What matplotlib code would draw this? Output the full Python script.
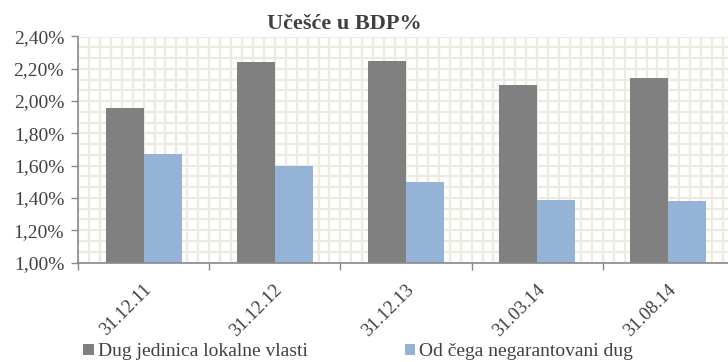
import numpy as np
import matplotlib
matplotlib.use("Agg")
import matplotlib.pyplot as plt
from matplotlib.ticker import FuncFormatter, MultipleLocator
from matplotlib.transforms import offset_copy

plt.rcParams['font.family'] = ['Liberation Serif', 'DejaVu Serif']

# share of GDP, in percent
dates = ['31.12.11', '31.12.12', '31.12.13', '31.03.14', '31.08.14']
dug_lokalne = [1.96, 2.24, 2.25, 2.10, 2.14]
negarantovani = [1.67, 1.60, 1.50, 1.39, 1.38]
series_names = ['Dug jedinica lokalne vlasti', 'Od čega negarantovani dug']

gray = '#808080'
blue = '#95B3D7'
grid_col = '#EDEBE0'
text_col = '#404040'

fig = plt.figure(figsize=(7.28, 3.62), dpi=100)
ax = fig.add_axes([78/728, 1 - 262.5/362, 656/728, 226/362])

x = np.arange(len(dates))
w = 0.29
b1 = ax.bar(x - w/2, np.array(dug_lokalne) - 1.0, w, bottom=1.0, color=gray, zorder=3)
b2 = ax.bar(x + w/2, np.array(negarantovani) - 1.0, w, bottom=1.0, color=blue, zorder=3)

ax.set_xlim(-0.5, len(dates) - 0.5)
ax.set_ylim(1.0, 2.4)

# small-grid pattern fill of the plot area
gx = np.arange(-0.5, len(dates) - 0.5 + 1e-9, 1/12)
gy = np.arange(1.0, 2.4 + 1e-9, 0.2/3)
ax.vlines(gx, 1.0, 2.4, color=grid_col, linewidth=1.7, zorder=0)
ax.hlines(gy, -0.5, len(dates) - 0.5, color=grid_col, linewidth=1.7, zorder=0)

ax.yaxis.set_major_locator(MultipleLocator(0.2))
ax.yaxis.set_major_formatter(FuncFormatter(lambda v, p: f'{v:.2f}%'.replace('.', ',')))

ax.set_xticks(np.arange(len(dates) + 1) - 0.5)
ax.set_xticklabels([])
ax.set_xticks(x, minor=True)
ax.set_xticklabels(dates, minor=True, rotation=45, ha='right', va='center',
                   rotation_mode='anchor', fontsize=13.5, color=text_col)
ax.tick_params(axis='x', which='minor', length=0, pad=14)
ax.tick_params(axis='x', which='major', length=5, color='#898989', width=1)
ax.tick_params(axis='y', which='major', length=5, color='#898989', width=1,
               labelsize=14, labelcolor=text_col, pad=5)
ax.tick_params(axis='y', which='minor', length=0)

# nudge date labels right/down a little
for lbl in ax.get_xticklabels(minor=True):
    lbl.set_transform(offset_copy(lbl.get_transform(), fig=fig, x=5, y=-5, units='dots'))

for s in ['top', 'right']:
    ax.spines[s].set_visible(False)
for s in ['left', 'bottom']:
    ax.spines[s].set_color('#898989')
    ax.spines[s].set_linewidth(1.2)
    ax.spines[s].set_zorder(4)

fig.text(344/728, 1 - 24/362, 'Učešće u BDP%', ha='center', va='center',
         fontsize=16, fontweight='bold', color=text_col)

fig.legend([b1, b2], series_names, loc='center left',
           bbox_to_anchor=(83/728, 1 - 352/362), ncol=2, frameon=False,
           fontsize=14, handlelength=0.55, handleheight=0.55, handletextpad=0.2,
           columnspacing=5.0, labelcolor=text_col, borderaxespad=0, borderpad=0)

fig.savefig('out.png', dpi=100)
